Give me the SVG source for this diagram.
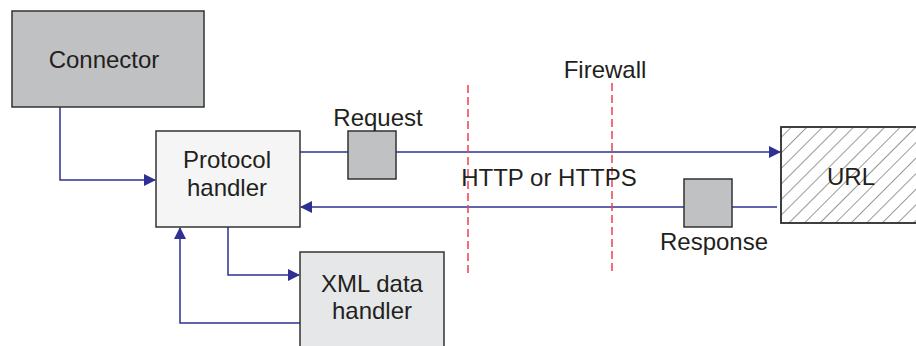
<svg xmlns="http://www.w3.org/2000/svg" width="916" height="346" viewBox="0 0 916 346">
<style>
.box{stroke:#333333;stroke-width:1.5}
.lbl{font-family:"Liberation Sans",Arial,sans-serif;font-size:24px;fill:#231f20;text-anchor:middle}
.conn{fill:none;stroke:#2e3192;stroke-width:1.5}
.fw{fill:none;stroke:#f0424e;stroke-width:1.5;stroke-dasharray:8,4}
</style>
<defs>
<marker id="arr" markerWidth="12" markerHeight="12" refX="11" refY="6" orient="auto" markerUnits="userSpaceOnUse">
<path d="M0,0 L12,6 L0,12 Z" fill="#2e3192"/>
</marker>
<pattern id="hatch" width="11" height="11" patternUnits="userSpaceOnUse" patternTransform="rotate(45)">
<line x1="0" y1="0" x2="0" y2="11" stroke="#333333" stroke-width="1"/>
</pattern>
</defs>
<g id="connectors">
<path class="conn" d="M60,107 V180 H155" marker-end="url(#arr)"/>
<path class="conn" d="M300,152 H780" marker-end="url(#arr)"/>
<path class="conn" d="M777,207 H301" marker-end="url(#arr)"/>
<path class="conn" d="M228,227 V275 H299" marker-end="url(#arr)"/>
<path class="conn" d="M300,323 H180 V228" marker-end="url(#arr)"/>
</g>
<g id="firewall">
<line class="fw" x1="468" y1="85" x2="468" y2="276"/>
<line class="fw" x1="612" y1="83" x2="612" y2="273"/>
<text class="lbl" x="605" y="78">Firewall</text>
</g>
<text class="lbl" x="549" y="186">HTTP or HTTPS</text>
<g id="connector">
<rect class="box" x="12" y="11" width="192" height="96" fill="#c0c1c3"/>
<text class="lbl" x="104" y="68">Connector</text>
</g>
<g id="protocol-handler">
<rect class="box" x="156" y="131" width="144" height="96" fill="#f4f5f4"/>
<text class="lbl" x="227" y="168">Protocol</text>
<text class="lbl" x="227" y="196">handler</text>
</g>
<g id="xml-data-handler">
<rect class="box" x="300" y="252" width="144" height="100" fill="#e6e7e8"/>
<text class="lbl" x="372" y="292">XML data</text>
<text class="lbl" x="372" y="319">handler</text>
</g>
<g id="request">
<rect class="box" x="348" y="131" width="48" height="48" fill="#c0c1c3"/>
<text class="lbl" x="378" y="126">Request</text>
</g>
<g id="response">
<rect class="box" x="684" y="179" width="48" height="48" fill="#c0c1c3"/>
<text class="lbl" x="714" y="250">Response</text>
</g>
<g id="url">
<rect class="box" x="781" y="127" width="140" height="96" fill="#ffffff"/>
<rect x="781" y="127" width="140" height="96" fill="url(#hatch)" stroke="#333333" stroke-width="1.5"/>
<text class="lbl" x="851" y="185">URL</text>
</g>
</svg>
